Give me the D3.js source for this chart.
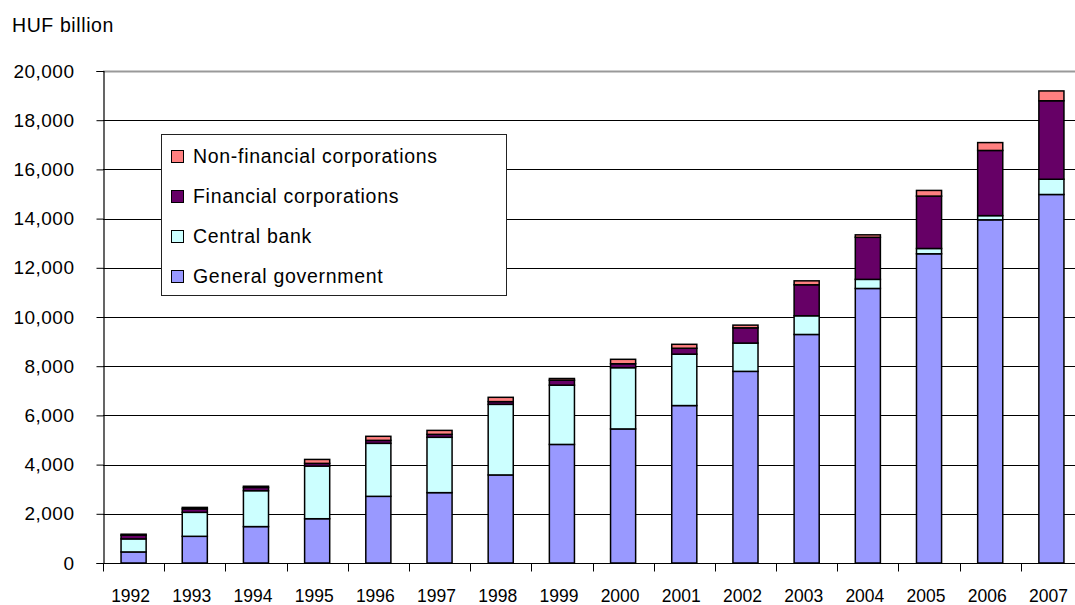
<!DOCTYPE html>
<html lang="en">
<head>
<meta charset="utf-8" />
<title>HUF billion</title>
<script src="https://d3js.org/d3.v7.min.js"></script>
<style>
    body { margin: 0; background: #fff; }
    svg { display: block; }
    text { font-family: "Liberation Sans", Arial, sans-serif; fill: #000; }
</style>
</head>
<body>
<div id="chart"></div>
<script>
    // data
    const years = ["1992", "1993", "1994", "1995", "1996", "1997", "1998", "1999",
                   "2000", "2001", "2002", "2003", "2004", "2005", "2006", "2007"];
    const generalGov = [450, 1085, 1480, 1800, 2710, 2860, 3580, 4820,
                        5450, 6400, 7790, 9290, 11160, 12570, 13950, 14980];
    const centralBank = [530, 975, 1460, 2140, 2155, 2250, 2870, 2410,
                         2490, 2090, 1150, 760, 370, 215, 170, 620];
    const financialCorp = [150, 140, 130, 110, 120, 120, 110, 200,
                           160, 240, 620, 1260, 1710, 2130, 2650, 3190];
    const nonFinancialCorp = [40, 60, 50, 160, 165, 160, 175, 70,
                              180, 160, 110, 160, 100, 230, 320, 400];
    const yTicks = [0, 2000, 4000, 6000, 8000, 10000, 12000, 14000, 16000, 18000, 20000];
    const seriesNames = ["General government", "Central bank", "Financial corporations", "Non-financial corporations"];
    const seriesColors = ["#9999ff", "#ccffff", "#660066", "#ff8080"];

    const W = 1075, H = 605;
    const plot = { left: 103, right: 1082, top: 71, bottom: 563 };

    const svg = d3.select("#chart").append("svg")
        .attr("width", W)
        .attr("height", H);

    const x = d3.scaleBand()
        .domain(years)
        .range([plot.left, plot.right])
        .paddingInner(0.59)
        .paddingOuter(0.295);

    const y = d3.scaleLinear()
        .domain([0, 20000])
        .range([plot.bottom, plot.top]);

    // gridlines
    svg.append("g")
        .selectAll("line")
        .data(yTicks.filter(d => d > 0))
        .join("line")
        .attr("x1", plot.left)
        .attr("x2", plot.right)
        .attr("y1", d => Math.round(y(d)) + 0.5)
        .attr("y2", d => Math.round(y(d)) + 0.5)
        .attr("stroke", d => d === 20000 ? "#999" : "#000")
        .attr("stroke-width", d => d === 20000 ? 2 : 1);

    // stacked bars
    const table = years.map((yr, i) => ({
        year: yr,
        gg: generalGov[i], cb: centralBank[i], fc: financialCorp[i], nfc: nonFinancialCorp[i]
    }));
    const keys = ["gg", "cb", "fc", "nfc"];
    const stacked = d3.stack().keys(keys)(table);

    svg.append("g")
        .selectAll("g")
        .data(stacked)
        .join("g")
        .attr("fill", (d, i) => seriesColors[i])
        .selectAll("rect")
        .data(d => d)
        .join("rect")
        .attr("x", d => x(d.data.year))
        .attr("width", x.bandwidth())
        .attr("y", d => y(d[1]))
        .attr("height", d => y(d[0]) - y(d[1]))
        .attr("stroke", "#000")
        .attr("stroke-width", 1.5);

    // y axis
    const yAxis = d3.axisLeft(y)
        .tickValues(yTicks)
        .tickSize(7)
        .tickPadding(22)
        .tickFormat(d3.format(","));
    const yG = svg.append("g")
        .attr("transform", "translate(" + (plot.left + 0.5) + ",0)")
        .call(yAxis);
    yG.select(".domain").attr("stroke", "#000").attr("stroke-width", 1.2);
    yG.selectAll(".tick line").attr("stroke", "#000");
    yG.selectAll(".tick text")
        .attr("font-size", 19)
        .attr("letter-spacing", 0.5)
        .attr("font-family", "Liberation Sans, Arial, sans-serif");

    // x axis, ticks at category boundaries
    const xG = svg.append("g")
        .attr("transform", "translate(0," + (plot.bottom + 0.5) + ")");
    xG.append("line")
        .attr("x1", plot.left)
        .attr("x2", plot.right)
        .attr("stroke", "#000")
        .attr("stroke-width", 1.2);
    xG.selectAll(".bt")
        .data(years)
        .join("line")
        .attr("class", "bt")
        .attr("x1", d => Math.round(x(d) - x.step() * x.paddingOuter()) + 0.5)
        .attr("x2", d => Math.round(x(d) - x.step() * x.paddingOuter()) + 0.5)
        .attr("y1", 0)
        .attr("y2", 8)
        .attr("stroke", "#000");
    xG.selectAll(".yl")
        .data(years)
        .join("text")
        .attr("class", "yl")
        .attr("x", d => x(d) + x.bandwidth() / 2 - 3)
        .attr("y", 38)
        .attr("text-anchor", "middle")
        .attr("font-size", 17.5)
        .text(d => d);

    // unit label
    svg.append("text")
        .attr("x", 12)
        .attr("y", 32)
        .attr("font-size", 19.5)
        .attr("letter-spacing", 0.6)
        .text("HUF billion");

    // legend
    const legend = svg.append("g");
    legend.append("rect")
        .attr("x", 161.5)
        .attr("y", 134.5)
        .attr("width", 345)
        .attr("height", 161)
        .attr("fill", "#fff")
        .attr("stroke", "#222")
        .attr("stroke-width", 1);

    const legendOrder = [3, 2, 1, 0];
    const li = legend.selectAll(".li")
        .data(legendOrder)
        .join("g")
        .attr("class", "li")
        .attr("transform", (d, i) => "translate(171," + (150 + i * 40) + ")");
    li.append("rect")
        .attr("x", 0.5)
        .attr("y", 0.5)
        .attr("width", 12)
        .attr("height", 12)
        .attr("fill", d => seriesColors[d])
        .attr("stroke", "#000")
        .attr("stroke-width", 1);
    li.append("text")
        .attr("x", 22)
        .attr("y", 13)
        .attr("font-size", 19.5)
        .attr("letter-spacing", 0.7)
        .text(d => seriesNames[d]);
</script>
</body>
</html>
